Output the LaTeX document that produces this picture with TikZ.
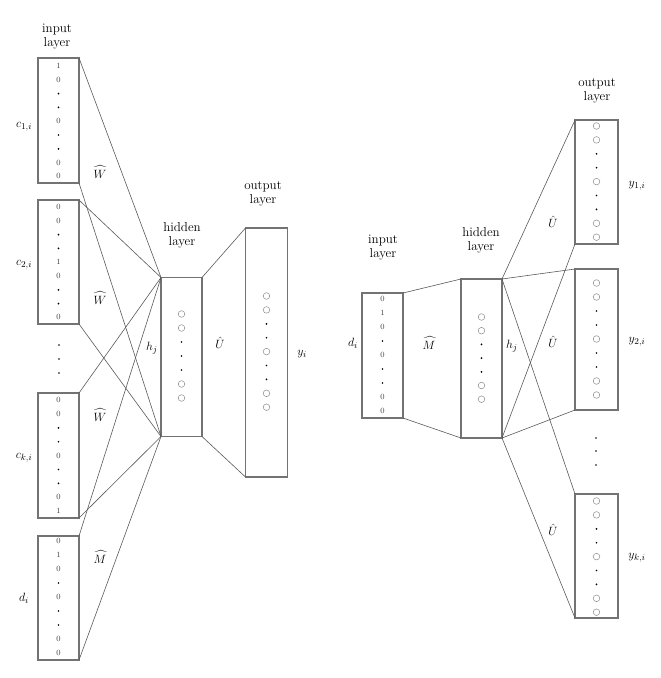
\documentclass[tikz,border=0pt]{standalone}
\usepackage{amsmath}
\begin{document}
\begin{tikzpicture}[x=1pt,y=-1pt,
  layerbox/.style={draw=black!55,line width=1.3pt,inner sep=0pt,outer sep=0pt,minimum width=41pt},
  wire/.style={draw=black!65,line width=0.6pt},
  circ/.style={circle,draw=black!45,line width=0.5pt,inner sep=0pt,minimum size=6.6pt},
  dotn/.style={circle,fill=black,inner sep=0pt,minimum size=1.9pt},
  digit/.style={inner sep=0pt,text=black!75,font=\fontsize{8}{9}\selectfont},
  title/.style={align=center,font=\fontsize{13}{14}\selectfont},
  lab/.style={font=\fontsize{12.5}{14}\selectfont}]
\useasboundingbox (0,0) rectangle (661,678);
\newcommand\colitems[5]{%
  \foreach \s [count=\k from 0] in {#5} {%
    \if o\s \node[circ] (#1-\k) at (#2,{#3+\k*#4}) {};%
    \else\if d\s \node[dotn] (#1-\k) at (#2,{#3+\k*#4}) {};%
    \else \node[digit] (#1-\k) at (#2,{#3+\k*#4}) {\s};%
    \fi\fi
  }}
% ---------------- left network ----------------
\node[layerbox,minimum height=125pt] (c1) at (58.5,120.5) {};
\node[layerbox,minimum height=124pt] (c2) at (58.5,262) {};
\node[layerbox,minimum height=125pt] (ck) at (58.5,455.5) {};
\node[layerbox,minimum height=124pt] (dL) at (58.5,598) {};
\node[layerbox,minimum height=159pt] (hL) at (181.5,357) {};
\node[layerbox,minimum height=249pt,minimum width=42pt] (oL) at (266.5,352.5) {};
\colitems{c1i}{58.5}{66}{13.8}{1,0,d,d,0,d,d,0,0}
\colitems{c2i}{58.5}{207}{13.8}{0,0,d,d,1,0,d,d,0}
\colitems{cki}{58.5}{400}{13.9}{0,0,d,d,0,d,d,0,1}
\colitems{dLi}{58.5}{541}{14}{0,1,0,d,0,d,d,0,0}
\colitems{hLi}{181.5}{314}{14}{o,o,d,d,d,o,o}
\colitems{oLi}{266.5}{296}{13.9}{o,o,d,d,o,d,d,o,o}
\node[dotn] (vl1) at (59,345) {};
\node[dotn] (vl2) at (59,359) {};
\node[dotn] (vl3) at (59,373) {};
\foreach \b in {c1,c2,ck,dL} {
  \draw[wire] (\b.north east) -- (hL.north west);
  \draw[wire] (\b.south east) -- (hL.south west);
}
\draw[wire] (hL.north east) -- (oL.north west);
\draw[wire] (hL.south east) -- (oL.south west);
\node[title] (tinL) at (57,37) {input\\layer};
\node[title] (thL) at (182,235) {hidden\\layer};
\node[title] (toL) at (263,194) {output\\layer};
\node[lab] (lc1) at (24,127) {$c_{1,i}$};
\node[lab] (lc2) at (24,265) {$c_{2,i}$};
\node[lab] (lck) at (24,458) {$c_{k,i}$};
\node[lab] (ld) at (24,598) {$d_i$};
\node[lab] (w1) at (100,172) {$\widehat{W}$};
\node[lab] (w2) at (100,298) {$\widehat{W}$};
\node[lab] (w3) at (100,415) {$\widehat{W}$};
\node[lab] (m1) at (100,557) {$\widehat{M}$};
\node[lab] (hjL) at (152,348) {$h_j$};
\node[lab] (uL) at (220,343) {$\hat{U}$};
\node[lab] (yL) at (302,354) {$y_i$};
% ---------------- right network ----------------
\node[layerbox,minimum height=125pt] (dR) at (382.5,355.5) {};
\node[layerbox,minimum height=159pt] (hR) at (481.5,358.5) {};
\node[layerbox,minimum height=124pt,minimum width=43pt] (y1) at (596.5,182) {};
\node[layerbox,minimum height=141pt,minimum width=43pt] (y2) at (596.5,339.5) {};
\node[layerbox,minimum height=124pt,minimum width=43pt] (yk) at (596.5,556) {};
\colitems{dRi}{382.5}{299}{14}{0,1,0,d,0,d,d,0,0}
\colitems{hRi}{481.5}{317}{13.7}{o,o,d,d,d,o,o}
\colitems{y1i}{596.5}{126}{13.9}{o,o,d,d,o,d,d,o,o}
\colitems{y2i}{596.5}{283}{14}{o,o,d,d,o,d,d,o,o}
\colitems{yki}{596.5}{501}{13.9}{o,o,d,d,o,d,d,o,o}
\node[dotn] (vr1) at (596,438) {};
\node[dotn] (vr2) at (596,451) {};
\node[dotn] (vr3) at (596,465) {};
\draw[wire] (dR.north east) -- (hR.north west);
\draw[wire] (dR.south east) -- (hR.south west);
\foreach \b in {y1,y2,yk} {
  \draw[wire] (hR.north east) -- (\b.north west);
  \draw[wire] (hR.south east) -- (\b.south west);
}
\node[title] (tinR) at (383,248) {input\\layer};
\node[title] (thR) at (481,240) {hidden\\layer};
\node[title] (toR) at (597,91) {output\\layer};
\node[lab] (ldR) at (353,343) {$d_i$};
\node[lab] (mR) at (429,343) {$\widehat{M}$};
\node[lab] (hjR) at (512,346) {$h_j$};
\node[lab] (u1) at (553,222) {$\hat{U}$};
\node[lab] (u2) at (553,342) {$\hat{U}$};
\node[lab] (u3) at (553,530) {$\hat{U}$};
\node[lab] (ly1) at (637,186) {$y_{1,i}$};
\node[lab] (ly2) at (637,342) {$y_{2,i}$};
\node[lab] (lyk) at (637,558) {$y_{k,i}$};
\end{tikzpicture}
\end{document}
